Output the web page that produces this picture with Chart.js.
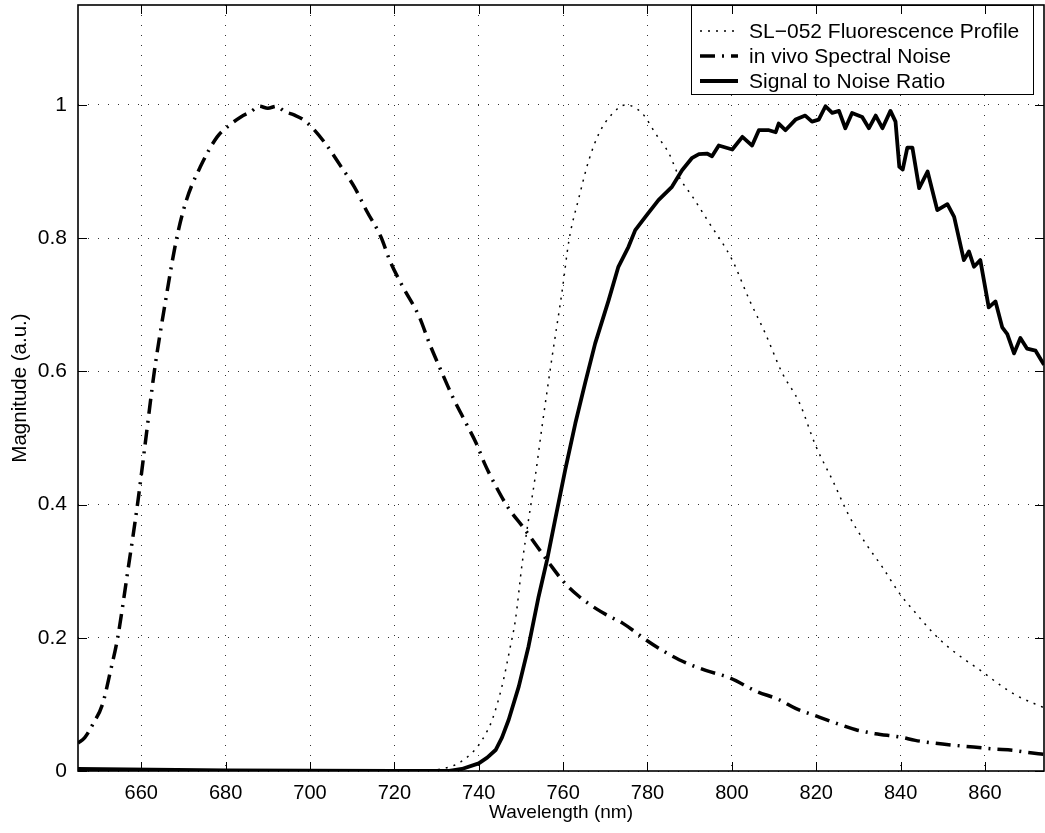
<!DOCTYPE html>
<html>
<head>
<meta charset="utf-8">
<title>SL-052 spectra</title>
<script src="https://cdn.jsdelivr.net/npm/chart.js@4.4.1/dist/chart.umd.min.js"></script>
<style>
    html, body { margin: 0; padding: 0; background: #fff; }
    #wrap { width: 1045px; height: 833px; position: relative; }
</style>
</head>
<body>
<div id="wrap"><canvas id="spectraChart"></canvas></div>
<script>
// values (wavelength in nm, magnitude in a.u.)
const fluorX = [645, 700, 725, 730, 733, 735.3, 738, 740, 742, 743.2, 745.5, 747.5, 748.7, 750.3, 751.8,
    753.4, 755, 757.4, 759.8, 761.4, 763.8, 766.1, 768.5, 771.7, 774.8, 778.8, 781.9, 785.1, 787.5,
    790.7, 794.2, 800.1, 804.1, 808, 811.9, 816, 819.9, 823.9, 827.8, 831.8, 835.7, 839.7, 843.6,
    847.6, 851.5, 855.5, 859.4, 863.4, 867.3, 874];
const fluorY = [0, 0, 0, 0.002, 0.006, 0.012, 0.025, 0.039, 0.06, 0.077, 0.127, 0.187, 0.227, 0.312, 0.377,
    0.442, 0.517, 0.622, 0.722, 0.797, 0.862, 0.917, 0.957, 0.987, 1.0, 0.987, 0.957, 0.927, 0.892,
    0.862, 0.827, 0.767, 0.708, 0.656, 0.598, 0.553, 0.488, 0.436, 0.383, 0.341, 0.306, 0.267, 0.237,
    0.208, 0.185, 0.166, 0.149, 0.130, 0.114, 0.095];

const noiseX = [645, 646.6, 648.5, 650.8, 652.7, 654.4, 656.8, 659.1, 661.1, 663.1, 665.6, 668.4, 670.7,
    674, 678, 681, 683.6, 686, 688, 690, 692, 694, 696.2, 699, 703.3, 707.4, 710.5, 713.5, 716.8, 719,
    722, 725.9, 728.3, 731, 733.8, 737, 739.4, 741.5, 744.1, 747, 750.4, 753.5, 756.7, 760, 763.8, 768,
    771, 774.1, 779.6, 783, 787.5, 793.8, 799.4, 805.7, 811.2, 815.1, 820.7, 825, 829.4, 834, 839.9,
    843.5, 847.8, 852, 857.3, 862, 866.7, 870, 874];
const noiseY = [0.042, 0.05, 0.07, 0.10, 0.15, 0.20, 0.30, 0.40, 0.50, 0.60, 0.70, 0.80, 0.857,
    0.907, 0.952, 0.97, 0.982, 0.99, 0.998, 0.995, 0.998, 0.99, 0.985, 0.975, 0.945, 0.907, 0.877, 0.84, 0.802, 0.765,
    0.727, 0.682, 0.642, 0.602, 0.562, 0.522, 0.492, 0.46, 0.427, 0.395, 0.367, 0.34, 0.312, 0.285, 0.262, 0.243,
    0.232, 0.222, 0.197, 0.183, 0.167, 0.151, 0.140, 0.120, 0.107, 0.094, 0.081, 0.071, 0.062, 0.056, 0.051,
    0.046, 0.042, 0.039, 0.036, 0.033, 0.031, 0.028, 0.025];

const snrX = [645, 680, 720, 733, 736, 740, 742, 744, 745.5, 747.1, 749.5, 751.8, 754.2, 756.2, 758.1,
    760.5, 762.9, 765.2, 767.6, 770.8, 773.1, 775.5, 777.1, 779.5, 782.6, 785.8, 788.2, 790.5, 792.2,
    794.1, 795.3, 796.9, 798.5, 800.1, 802.5, 804.8, 806.4, 808.8, 810.4, 811.1, 812.7, 815.1, 817.4,
    819, 820.6, 822.2, 823.8, 825.4, 826.9, 828.5, 830.9, 832.5, 834.1, 835.7, 837.6, 838.8, 839.7,
    840.5, 841.6, 842.8, 844.4, 846.4, 848.7, 851.1, 852.7, 855, 856.2, 857.4, 858.9, 860.9, 862.5,
    864.1, 865.3, 866.9, 868.4, 870, 872, 873.6, 874];
const snrY = [0.003, 0.001, 0, 0, 0.003, 0.0115, 0.02, 0.0315, 0.05, 0.077, 0.127, 0.187, 0.262, 0.317, 0.377,
    0.452, 0.522, 0.582, 0.642, 0.707, 0.757, 0.787, 0.812, 0.832, 0.857, 0.877, 0.902, 0.920, 0.926,
    0.927, 0.923, 0.939, 0.936, 0.933, 0.952, 0.939, 0.962, 0.962, 0.959, 0.972, 0.962, 0.978, 0.984,
    0.975, 0.978, 0.998, 0.988, 0.991, 0.965, 0.988, 0.982, 0.965, 0.984, 0.965, 0.991, 0.975, 0.907,
    0.903, 0.936, 0.936, 0.875, 0.900, 0.842, 0.851, 0.832, 0.767, 0.780, 0.757, 0.767, 0.696, 0.705,
    0.666, 0.656, 0.627, 0.650, 0.634, 0.631, 0.614, 0.61];

const xTicks = [660, 680, 700, 720, 740, 760, 780, 800, 820, 840, 860];
const yTicks = [0, 0.2, 0.4, 0.6, 0.8, 1];

const FONT = "'Liberation Sans', Arial, Helvetica, sans-serif";

function toPoints(xs, ys) {
    return xs.map((x, i) => ({x: x, y: ys[i]}));
}

// MATLAB style: inward ticks on all four sides, boxed legend in the top right
const matlabAxes = {
    id: "matlabAxes",
    afterDraw(chart) {
        const {ctx, chartArea} = chart;
        const xs = chart.scales.x;
        const ys = chart.scales.y;

        // legend
        const boxRight = chartArea.right - 11;
        const boxW = 342;
        const boxH = 89;
        const x0 = boxRight - boxW;
        const y0 = chartArea.top;
        ctx.save();
        ctx.fillStyle = "#fff";
        ctx.fillRect(x0, y0, boxW, boxH);
        ctx.lineWidth = 1;
        ctx.strokeStyle = "#000";
        ctx.strokeRect(x0 + 0.5, y0 + 0.5, boxW, boxH);
        ctx.font = "21px " + FONT;
        ctx.textBaseline = "middle";
        ctx.textAlign = "left";
        chart.data.datasets.forEach((ds, i) => {
            const cy = y0 + 26 + i * 25;
            ctx.beginPath();
            ctx.setLineDash(ds.borderDash || []);
            ctx.lineWidth = ds.borderWidth;
            ctx.moveTo(x0 + 9, cy);
            ctx.lineTo(x0 + 47, cy);
            ctx.stroke();
            ctx.setLineDash([]);
            ctx.fillStyle = "#000";
            ctx.fillText(ds.label, x0 + 58, cy + 1);
        });

        // ticks
        ctx.lineWidth = 1;
        ctx.beginPath();
        for (const v of xTicks) {
            const px = Math.round(xs.getPixelForValue(v)) + 0.5;
            ctx.moveTo(px, chartArea.bottom);
            ctx.lineTo(px, chartArea.bottom - 9);
            ctx.moveTo(px, chartArea.top);
            ctx.lineTo(px, chartArea.top + 9);
        }
        for (const v of yTicks) {
            const py = Math.round(ys.getPixelForValue(v)) + 0.5;
            ctx.moveTo(chartArea.left, py);
            ctx.lineTo(chartArea.left + 9, py);
            ctx.moveTo(chartArea.right, py);
            ctx.lineTo(chartArea.right - 9, py);
        }
        ctx.stroke();

        // frame
        ctx.lineWidth = 1.6;
        ctx.strokeRect(chartArea.left, chartArea.top, chartArea.right - chartArea.left, chartArea.bottom - chartArea.top);
        ctx.restore();
    }
};

const gridOpts = {color: "rgba(0,0,0,0.8)", lineWidth: 1, drawTicks: false};
const borderOpts = {display: false, dash: [1, 9]};

const config = {
    type: "line",
    data: {
        datasets: [
            {
                label: "SL\u2212052 Fluorescence Profile",
                data: toPoints(fluorX, fluorY),
                borderColor: "#000",
                borderWidth: 1.5,
                borderDash: [2, 6],
                pointRadius: 0,
                cubicInterpolationMode: "monotone",
                fill: false
            },
            {
                label: "in vivo Spectral Noise",
                data: toPoints(noiseX, noiseY),
                borderColor: "#000",
                borderWidth: 3.5,
                borderDash: [15, 7, 2, 7],
                pointRadius: 0,
                cubicInterpolationMode: "monotone",
                fill: false
            },
            {
                label: "Signal to Noise Ratio",
                data: toPoints(snrX, snrY),
                borderColor: "#000",
                borderWidth: 3.8,
                borderJoinStyle: "round",
                pointRadius: 0,
                tension: 0,
                fill: false
            }
        ]
    },
    options: {
        animation: false,
        responsive: true,
        maintainAspectRatio: false,
        devicePixelRatio: 1,
        layout: {
            padding: {top: 5, right: 1, left: 0, bottom: 0}
        },
        plugins: {
            legend: {display: false},
            tooltip: {enabled: false}
        },
        scales: {
            x: {
                type: "linear",
                min: 645,
                max: 874,
                afterBuildTicks: function (scale) {
                    scale.ticks = xTicks.map(v => ({value: v}));
                },
                afterFit: function (scale) {
                    scale.height = 62;
                    scale.paddingLeft = 0;
                    scale.paddingRight = 0;
                },
                ticks: {
                    color: "#000",
                    font: {family: FONT, size: 20},
                    padding: 10,
                    maxRotation: 0,
                    autoSkip: false
                },
                grid: gridOpts,
                border: borderOpts,
                title: {
                    display: true,
                    text: "Wavelength (nm)",
                    color: "#000",
                    font: {family: FONT, size: 19},
                    padding: {top: 0, bottom: 9}
                }
            },
            y: {
                type: "linear",
                min: 0,
                max: 1.15,
                afterBuildTicks: function (scale) {
                    scale.ticks = yTicks.map(v => ({value: v}));
                },
                afterFit: function (scale) {
                    scale.width = 78;
                    scale.paddingTop = 0;
                    scale.paddingBottom = 0;
                },
                ticks: {
                    color: "#000",
                    font: {family: FONT, size: 21},
                    padding: 11,
                    callback: function (value) {
                        return String(Math.round(value * 10) / 10);
                    }
                },
                grid: gridOpts,
                border: borderOpts,
                title: {
                    display: true,
                    text: "Magnitude (a.u.)",
                    color: "#000",
                    font: {family: FONT, size: 20.5},
                    padding: {top: 8, bottom: 0}
                }
            }
        }
    },
    plugins: [matlabAxes]
};

const spectraChart = new Chart(document.getElementById("spectraChart").getContext("2d"), config);
</script>
</body>
</html>
